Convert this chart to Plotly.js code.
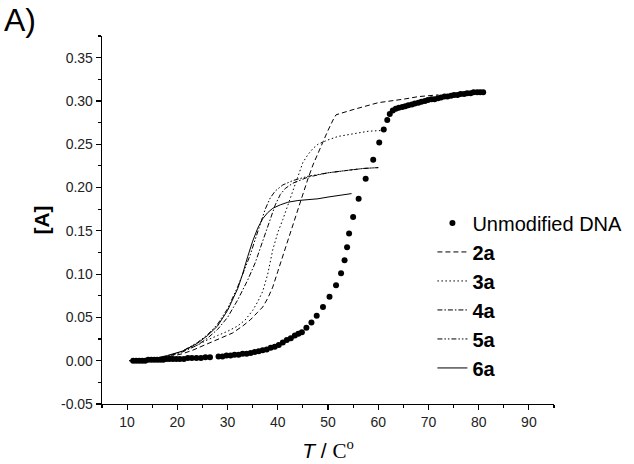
<!DOCTYPE html>
<html>
<head>
<meta charset="utf-8">
<script src="https://cdn.plot.ly/plotly-3.0.1.min.js"></script>
<style>
html,body{margin:0;padding:0;background:#fff;}
#chart{width:634px;height:464px;}
</style>
</head>
<body>
<div id="chart"></div>
<script>
// ---- data ----
var dnaT = [11.2,11.8,12.4,13.0,13.6,14.2,14.8,15.4,16.0,16.6,17.2,17.8,18.4,19.1,19.8,20.5,21.3,22.1,22.9,23.8,24.7,25.6,26.5,
  28.2,29.0,29.8,30.6,31.4,32.2,33.0,33.8,34.6,35.4,36.2,37.0,37.8,38.6,39.4,40.2,41.0,41.8,42.6,43.4,44.1,44.8,
  45.7,46.7,47.75,49.0,50.3,51.6,52.6,53.3,53.8,54.2,55.0,56.1,57.5,59.0,60.2,61.1,61.8,62.3,62.9,
  63.5,64.1,64.8,65.4,66.0,66.7,67.3,68.0,68.6,69.3,69.9,70.6,71.2,71.9,72.5,73.2,73.8,74.5,75.1,75.8,76.4,77.1,77.7,78.4,79.0,79.7,80.3,80.9];
var dnaA = [0.000,0.000,0.000,0.000,0.000,0.001,0.001,0.001,0.001,0.001,0.001,0.002,0.002,0.002,0.002,0.002,0.002,0.003,0.003,0.003,0.003,0.004,0.004,
  0.005,0.005,0.006,0.006,0.007,0.007,0.008,0.008,0.009,0.010,0.011,0.012,0.013,0.015,0.016,0.018,0.021,0.024,0.026,0.029,0.031,0.033,
  0.038,0.044,0.052,0.062,0.074,0.087,0.101,0.116,0.131,0.147,0.166,0.187,0.210,0.232,0.252,0.267,0.278,0.285,0.289,
  0.291,0.292,0.293,0.294,0.295,0.296,0.297,0.298,0.299,0.300,0.301,0.302,0.302,0.303,0.304,0.305,0.305,0.306,0.307,0.307,0.308,0.308,0.309,0.309,0.310,0.310,0.310,0.310];

var t2a = [10.5,15,18,21,23,25,27,29,31,33,34.5,36,37,38,39,40,41,42,43,44,45,46,47,48,49,50,51,51.6,55,60,65,68,72];
var a2a = [0.000,0.001,0.004,0.008,0.012,0.017,0.022,0.027,0.032,0.040,0.047,0.056,0.062,0.072,0.085,0.103,0.121,0.139,0.155,0.173,0.192,0.210,0.226,0.240,0.253,0.266,0.278,0.284,0.290,0.298,0.302,0.305,0.307];

var t3a = [10.5,15,18,21,24,26,28,30,32,33.5,35,36,37,38,39,40,41,42,43,44,45,46,47,48,50,52,55,58,61];
var a3a = [0.000,0.002,0.005,0.011,0.018,0.024,0.029,0.034,0.040,0.047,0.058,0.068,0.080,0.100,0.128,0.148,0.163,0.180,0.197,0.213,0.229,0.238,0.245,0.250,0.255,0.259,0.262,0.265,0.266];

var t4a = [10.5,15,18,21,24,26,28,30,32,34,35.5,36.5,37.5,38.5,39.5,40.5,41.5,43,46,50,54,57,60];
var a4a = [0.000,0.002,0.005,0.010,0.018,0.026,0.036,0.050,0.070,0.093,0.113,0.130,0.148,0.165,0.180,0.192,0.199,0.205,0.212,0.217,0.220,0.222,0.223];

var t5a = [10.5,15,18,21,24,26,28,30,32,33.5,34.5,35.5,36.5,37.5,38.5,39.5,41,43,46,50,54,57,60];
var a5a = [0.000,0.002,0.005,0.011,0.021,0.030,0.042,0.060,0.085,0.108,0.122,0.140,0.158,0.175,0.188,0.196,0.203,0.208,0.213,0.217,0.220,0.222,0.223];

var t6a = [10.5,15,18,21,24,26,28,30,32,33,34,35,36,37,38,39,40.5,42,44,46,48,50,52,54.7];
var a6a = [0.000,0.002,0.006,0.011,0.020,0.029,0.040,0.058,0.083,0.100,0.120,0.138,0.153,0.164,0.171,0.176,0.180,0.183,0.185,0.186,0.187,0.189,0.191,0.193];

var seriesNames = ['Unmodified DNA','<b>2a</b>','<b>3a</b>','<b>4a</b>','<b>5a</b>','<b>6a</b>'];

var xTickVals = [10,20,30,40,50,60,70,80,90];
var xTickText = ['10','20','30','40','50','60','70','80','90'];
var yTickVals = [-0.05,0,0.05,0.10,0.15,0.20,0.25,0.30,0.35];
var yTickText = ['-0.05','0.00','0.05','0.10','0.15','0.20','0.25','0.30','0.35'];

// ---- figure ----
function lineTrace(t, a, name, dash) {
  return {x: t, y: a, name: name, type: 'scatter', mode: 'lines',
          line: {color: '#000', width: 1, dash: dash}};
}

var traces = [
  {x: dnaT, y: dnaA, name: seriesNames[0], type: 'scatter', mode: 'markers',
   marker: {color: '#000', size: 6}},
  lineTrace(t2a, a2a, seriesNames[1], '5px,3px'),
  lineTrace(t3a, a3a, seriesNames[2], '1.5px,2.5px'),
  lineTrace(t4a, a4a, seriesNames[3], '5px,2px,1.5px,2px'),
  lineTrace(t5a, a5a, seriesNames[4], '5px,2px,1.5px,2px,1.5px,2px'),
  lineTrace(t6a, a6a, seriesNames[5], 'solid')
];

var font = 'Liberation Sans, Arial, sans-serif';

var layout = {
  width: 634, height: 464,
  margin: {l: 102, r: 80, t: 36, b: 60, pad: 0, autoexpand: false},
  paper_bgcolor: '#fff', plot_bgcolor: '#fff',
  font: {family: font, color: '#000'},
  showlegend: true,
  legend: {x: 0.731, y: 0.545, xanchor: 'left', yanchor: 'top',
           font: {family: font, size: 20, color: '#000'},
           bgcolor: 'rgba(0,0,0,0)', tracegroupgap: 0},
  xaxis: {
    range: [5, 95], showline: true, linecolor: '#000', linewidth: 1.3,
    showgrid: false, zeroline: false, mirror: false, automargin: false,
    tickmode: 'array', tickvals: xTickVals, ticktext: xTickText,
    ticks: 'outside', ticklen: 5, tickwidth: 1.2, tickcolor: '#000',
    tickfont: {family: font, size: 14, color: '#222'},
    minor: {tickmode: 'linear', tick0: 5, dtick: 5, ticks: 'outside', ticklen: 3, tickwidth: 1.2, tickcolor: '#000', showgrid: false},
    title: {text: "<i>T</i> / <span style=\"font-family:'Liberation Serif',serif\">C<sup>o</sup></span>",
            font: {family: font, size: 21, color: '#000'}, standoff: 14}
  },
  yaxis: {
    range: [-0.05, 0.375], showline: true, linecolor: '#000', linewidth: 1.3,
    showgrid: false, zeroline: false, mirror: false, automargin: false,
    tickmode: 'array', tickvals: yTickVals, ticktext: yTickText,
    ticks: 'outside', ticklen: 5, tickwidth: 1.2, tickcolor: '#000',
    tickfont: {family: font, size: 14, color: '#222'},
    minor: {tickmode: 'linear', tick0: 0, dtick: 0.025, ticks: 'outside', ticklen: 3, tickwidth: 1.2, tickcolor: '#000', showgrid: false},
    title: {text: '<b>[A]</b>', font: {family: font, size: 21, color: '#000'}, standoff: 5}
  },
  annotations: [
    {text: 'A)', xref: 'paper', yref: 'paper', x: -0.222, y: 1.097, xanchor: 'left', yanchor: 'top',
     showarrow: false, font: {family: font, size: 32, color: '#000'}}
  ]
};

Plotly.newPlot('chart', traces, layout, {displayModeBar: false, staticPlot: true});
</script>
</body>
</html>
